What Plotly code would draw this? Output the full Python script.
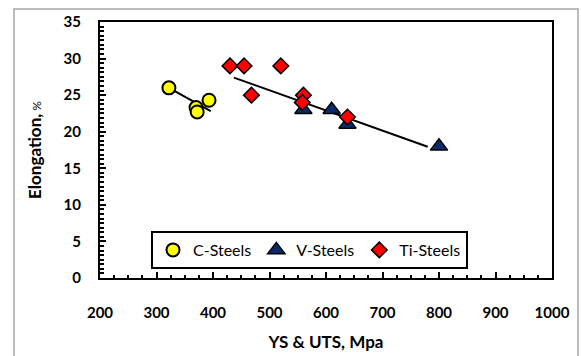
import plotly.graph_objects as go

# ---- data ----
c_x = [322, 370, 372, 393]
c_y = [26.0, 23.3, 22.7, 24.3]

v_x = [560, 610, 638, 800]
v_y = [23.0, 23.0, 21.0, 18.0]

ti_x = [430, 455, 468, 520, 560, 558, 638]
ti_y = [29.0, 29.0, 25.0, 29.0, 25.0, 24.0, 22.0]

c_trend_x = [322, 396]
c_trend_y = [26.0, 22.8]
vti_trend_x = [437, 780]
vti_trend_y = [27.4, 17.95]

x_ticks = [200, 300, 400, 500, 600, 700, 800, 900, 1000]
y_ticks = [0, 5, 10, 15, 20, 25, 30, 35]

FONT = "Lato"

fig = go.Figure()

fig.add_trace(go.Scatter(x=c_trend_x, y=c_trend_y, mode="lines",
                         line=dict(color="black", width=2), showlegend=False, hoverinfo="skip"))
fig.add_trace(go.Scatter(x=vti_trend_x, y=vti_trend_y, mode="lines",
                         line=dict(color="black", width=2), showlegend=False, hoverinfo="skip"))

fig.add_trace(go.Scatter(x=c_x, y=c_y, mode="markers", name="C-Steels",
                         marker=dict(symbol="circle", size=13, color="#ffff00",
                                     line=dict(color="black", width=2))))
fig.add_trace(go.Scatter(x=v_x, y=v_y, mode="markers", name="V-Steels",
                         marker=dict(symbol="triangle-up", size=15, color="#0b2a6b",
                                     line=dict(color="black", width=1.5))))
fig.add_trace(go.Scatter(x=ti_x, y=ti_y, mode="markers", name="Ti-Steels",
                         marker=dict(symbol="diamond", size=12, color="#ff0000",
                                     line=dict(color="black", width=1.5))))

L, R, T, B = 100, 29, 22, 78
W, H = 581, 356
pw = W - L - R
ph = H - T - B

def px(xp):
    return (xp - L) / pw

def py(yp):
    return (H - B - yp) / ph

fig.add_shape(type="rect", xref="paper", yref="paper",
              x0=px(14), x1=px(578), y0=py(370), y1=py(9),
              line=dict(color="#a6a6a6", width=1.5), layer="below")

fig.update_layout(
    width=W, height=H,
    margin=dict(l=L, r=R, t=T, b=B, autoexpand=False),
    paper_bgcolor="white", plot_bgcolor="white",
    font=dict(family=FONT, color="black"),
    legend=dict(orientation="h", x=px(151), y=py(231), xanchor="left", yanchor="top",
                bordercolor="black", borderwidth=2, bgcolor="white",
                font=dict(family=FONT, size=16, color="black"),
                itemwidth=30, tracegroupgap=0),
    showlegend=True,
)

fig.update_xaxes(
    range=[200, 1000], tickvals=x_ticks, ticktext=["<b>%d</b>" % v for v in x_ticks],
    showgrid=False, zeroline=False, automargin=False,
    showline=True, linecolor="black", linewidth=2, mirror=True,
    ticks="inside", ticklen=6, tickwidth=2, tickcolor="black",
    minor=dict(dtick=25, tick0=200, ticks="inside", ticklen=3, tickwidth=2, tickcolor="black", showgrid=False),
    tickfont=dict(family=FONT, size=15, color="black"),
    ticklabelstandoff=20,
    title=dict(text="<b>YS &amp; UTS, Mpa</b>", font=dict(family=FONT, size=17, color="black"), standoff=16),
)

fig.update_yaxes(
    range=[0, 35], tickvals=y_ticks, ticktext=["<b>%d</b>" % v for v in y_ticks],
    showgrid=False, zeroline=False, automargin=False,
    showline=True, linecolor="black", linewidth=2, mirror=True,
    ticks="inside", ticklen=6, tickwidth=2, tickcolor="black",
    minor=dict(dtick=0.625, tick0=0, ticks="inside", ticklen=4, tickwidth=2, tickcolor="black", showgrid=False),
    tickfont=dict(family=FONT, size=15, color="black"),
    ticklabelstandoff=14,
    title=dict(text="<b>Elongation,</b><span style='font-size:12px'> %</span>",
               font=dict(family=FONT, size=17, color="black"), standoff=18),
)

fig.write_html("out.html")
